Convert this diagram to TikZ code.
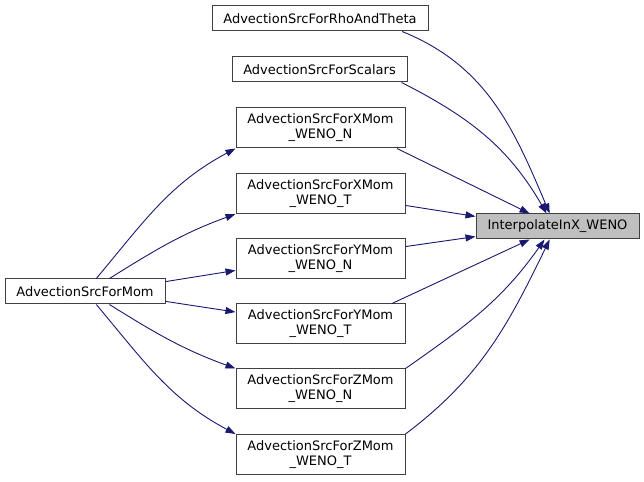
\documentclass[tikz,border=0pt]{standalone}
\usepackage{fontspec}
\setmainfont{DejaVu Sans}
\usetikzlibrary{arrows.meta}
\definecolor{edgenavy}{RGB}{25, 25, 112}
\definecolor{boxborder}{RGB}{64, 64, 64}
\definecolor{focusgray}{RGB}{191, 191, 191}
\tikzset{
  >=Stealth,
  callarrow/.style={-{Stealth[length=10pt, width=7pt, inset=0pt]}, line width=0.9pt, edgenavy}
}
\tikzset{
  funcbox/.style={rectangle, draw=boxborder, fill=white, line width=1pt, inner sep=0pt, align=center, font=\fontsize{13}{15}\selectfont},
  onebox/.style={funcbox, minimum height=25pt},
  twobox/.style={funcbox, minimum width=169pt, minimum height=40pt},
  focusbox/.style={funcbox, fill=focusgray, minimum width=163pt, minimum height=25pt}
}

\begin{document}
\begin{tikzpicture}[x=1pt, y=1pt]
    \useasboundingbox (0, 0) rectangle (644, 481);

    % Called function
    \node[focusbox] (interp) at (557.5, 254.5) {InterpolateInX\_WENO};

    % Direct callers
    \node[onebox, minimum width=216pt] (rho) at (320, 462.5) {AdvectionSrcForRhoAndTheta};
    \node[onebox, minimum width=175pt] (scal) at (319.5, 411.5) {AdvectionSrcForScalars};
    \node[twobox] (xn) at (320.5, 353) {AdvectionSrcForXMom\\\_WENO\_N};
    \node[twobox] (xt) at (320.5, 287.5) {AdvectionSrcForXMom\\\_WENO\_T};
    \node[twobox] (yn) at (320.5, 222.5) {AdvectionSrcForYMom\\\_WENO\_N};
    \node[twobox] (yt) at (320.5, 157) {AdvectionSrcForYMom\\\_WENO\_T};
    \node[twobox] (zn) at (320.5, 92) {AdvectionSrcForZMom\\\_WENO\_N};
    \node[twobox] (zt) at (320.5, 26.5) {AdvectionSrcForZMom\\\_WENO\_T};

    % Second level caller
    \node[onebox, minimum width=160pt] (mom) at (85, 189.5) {AdvectionSrcForMom};

    % Edges into InterpolateInX_WENO
    \draw[callarrow] (rho.-9) to[out=-22, in=113] (interp.121);
    \draw[callarrow] (scal.-9) to[out=-27, in=120] (interp.130);
    \draw[callarrow] (xn.-15) -- (interp.155);
    \draw[callarrow] (xt.-8) -- (interp.173);
    \draw[callarrow] (yn.8) -- (interp.187);
    \draw[callarrow] (yt.16) -- (interp.205);
    \draw[callarrow] (zn.north east) to[out=35, in=235] (interp.225);
    \draw[callarrow] (zt.north east) to[out=37, in=244] (interp.239);

    % Edges from AdvectionSrcForMom
    \draw[callarrow] (mom.49) to[out=50, in=208] (xn.south west);
    \draw[callarrow] (mom.28) to[out=32, in=200] (xt.south west);
    \draw[callarrow] (mom.7) -- (yn.188);
    \draw[callarrow] (mom.-7) -- (yt.172);
    \draw[callarrow] (mom.-28) to[out=-32, in=160] (zn.north west);
    \draw[callarrow] (mom.-49) to[out=-50, in=152] (zt.north west);
\end{tikzpicture}
\end{document}
